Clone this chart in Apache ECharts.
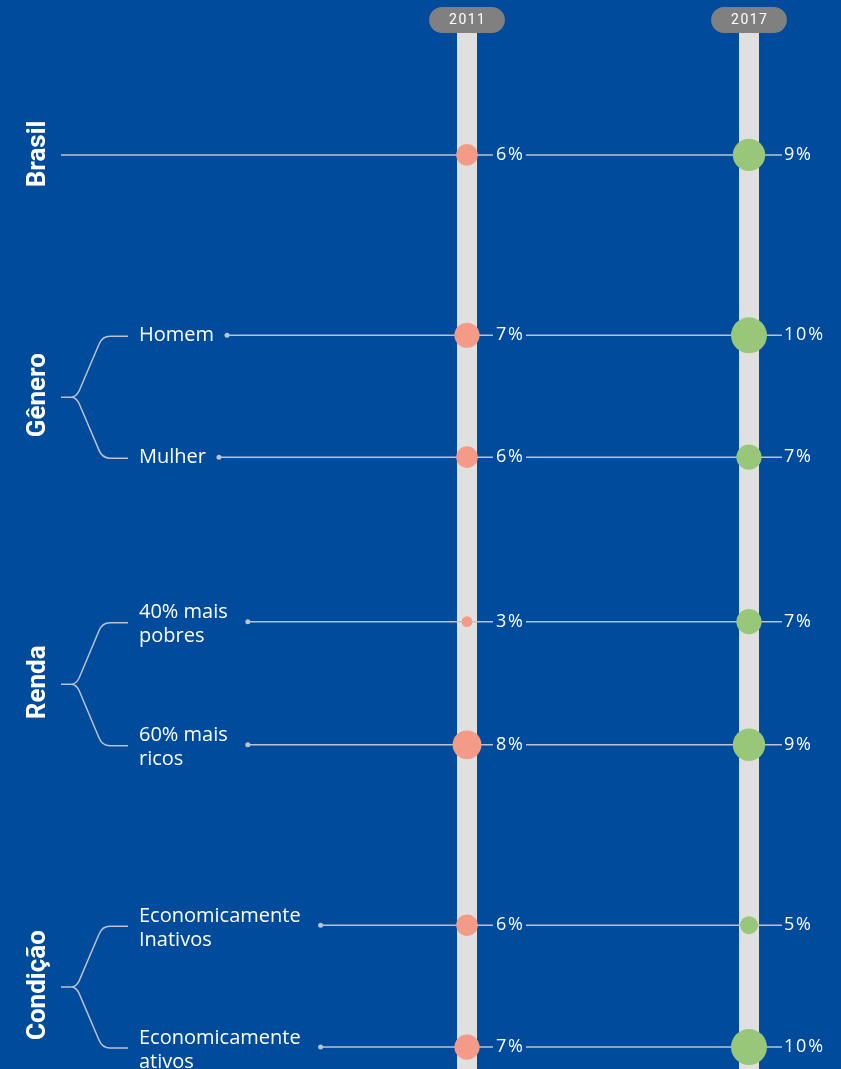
<!DOCTYPE html>
<html>
<head>
<meta charset="utf-8">
<script src="https://cdn.jsdelivr.net/npm/echarts@6/dist/echarts.min.js"></script>
<style>
  html, body { margin: 0; padding: 0; background: #004b9b; }
  #chart { width: 841px; height: 1069px; }
</style>
</head>
<body>
<div id="chart"></div>
<script>
// data
const years = ['2011', '2017'];
const rowLabels = ['', 'Homem', 'Mulher', '40% mais\npobres', '60% mais\nricos', 'Economicamente\nInativos', 'Economicamente\nativos'];
const values2011 = [6, 7, 6, 3, 8, 6, 7];
const values2017 = [9, 10, 7, 7, 9, 5, 10];
const groupNames = ['Brasil', 'Gênero', 'Renda', 'Condição'];
const groupRows = [[0, 0], [1, 2], [3, 4], [5, 6]];

// layout: slot of each row on the vertical axis (1 = gap inside a group)
const rowPos = [0, 1.48, 2.48, 3.83, 4.84, 6.32, 7.32];

const bg = '#004b9b';
const lineColor = '#bcc2cf';
const labelFont = '"Open Sans"';
const labelX = 139;   // left edge of row labels
const bracketX = 61;  // where the brackets / Brasil line start

const measureCtx = document.createElement('canvas').getContext('2d');
measureCtx.font = '20px ' + labelFont;
function textWidth(s) {
  return measureCtx.measureText(s).width;
}
// loose tracking, as in the original artwork
const spaced = s => String(s).split('').join('\u200a');

const sizeOf = v => v * 3.6;

function yearSeries(name, values, color, textGap, bgPad) {
  return {
    name: name,
    type: 'scatter',
    z: 4,
    symbolSize: val => sizeOf(val[2]),
    itemStyle: { color: color, opacity: 1 },
    data: values.map((v, i) => ({
      value: [name, rowPos[i], v],
      label: { distance: textGap - bgPad - sizeOf(v) / 2 }
    })),
    label: {
      show: true,
      position: 'right',
      formatter: p => spaced(p.value[2] + '%'),
      color: '#fff',
      fontSize: 18,
      fontFamily: labelFont,
      backgroundColor: bgPad ? bg : 'transparent',
      padding: [0, bgPad, 0, bgPad]
    }
  };
}

const chart = echarts.init(document.getElementById('chart'));
const option = {
  backgroundColor: bg,
  animation: false,
  grid: { left: 467, right: 92, top: 33, bottom: 0 },
  xAxis: {
    type: 'category',
    data: years,
    boundaryGap: false,
    position: 'top',
    axisLine: { show: false },
    axisTick: { show: false },
    axisLabel: {
      formatter: v => spaced(v),
      color: '#fff',
      fontSize: 14,
      fontFamily: 'Roboto',
      lineHeight: 16,
      backgroundColor: '#808080',
      borderRadius: 13,
      padding: [5, 20, 5, 20],
      margin: 0
    },
    splitLine: { show: true, lineStyle: { color: '#e0e0e0', width: 20 } }
  },
  yAxis: { type: 'value', inverse: true, min: -1, max: 7.5, show: false },
  series: [
    {
      // row lines, dots and row labels
      type: 'custom',
      z: 2,
      clip: false,
      silent: true,
      data: rowPos.map(p => [0, p]),
      renderItem: function (params, api) {
        const i = params.dataIndex;
        const y = api.coord([0, api.value(1)])[1];
        const xEnd = api.coord([1, api.value(1)])[0] + 33;
        const label = rowLabels[i];
        const children = [];
        let xStart = bracketX;
        let multi = false;
        if (label) {
          const lines = label.split('\n');
          multi = lines.length > 1;
          const w = Math.max.apply(null, lines.map(textWidth));
          xStart = labelX + w + (multi ? 20 : 13);
        }
        children.push({
          type: 'line',
          shape: { x1: xStart, y1: y, x2: xEnd, y2: y },
          style: { stroke: lineColor, lineWidth: 1.5 }
        });
        if (label) {
          children.push({
            type: 'circle',
            shape: { cx: xStart, cy: y, r: 2.5 },
            style: { fill: lineColor }
          });
          children.push({
            type: 'text',
            x: labelX,
            y: y + (multi ? 3 : 0),
            style: {
              text: label,
              fill: '#fff',
              fontSize: 20,
              fontFamily: labelFont,
              lineHeight: 24,
              align: 'left',
              verticalAlign: 'middle'
            }
          });
        }
        return { type: 'group', children: children };
      }
    },
    {
      // group names and brackets
      type: 'custom',
      z: 2,
      clip: false,
      silent: true,
      data: groupRows.map(r => [0, rowPos[r[0]], rowPos[r[1]]]),
      renderItem: function (params, api) {
        const y1 = api.coord([0, api.value(1)])[1];
        const y2 = api.coord([0, api.value(2)])[1];
        const ym = (y1 + y2) / 2;
        const children = [{
          type: 'text',
          x: 38,
          y: ym - 1,
          rotation: Math.PI / 2,
          style: {
            text: groupNames[params.dataIndex],
            fill: '#fff',
            fontSize: 26,
            fontWeight: 'bold',
            fontFamily: 'Roboto',
            align: 'center',
            verticalAlign: 'middle'
          }
        }];
        if (y2 > y1) {
          const t = y1 + 1, b = y2 + 1, m = ym + 1;
          const d = 'M' + bracketX + ',' + m + ' L71,' + m +
            ' C75,' + m + ' 77,' + (m - 2) + ' 79,' + (m - 6) +
            ' L99,' + (t + 8) + ' C101,' + (t + 3) + ' 104,' + t + ' 110,' + t +
            ' L128,' + t +
            ' M71,' + m + ' C75,' + m + ' 77,' + (m + 2) + ' 79,' + (m + 6) +
            ' L99,' + (b - 8) + ' C101,' + (b - 3) + ' 104,' + b + ' 110,' + b +
            ' L128,' + b;
          children.push({
            type: 'path',
            shape: { pathData: d },
            style: { stroke: lineColor, lineWidth: 1.5, fill: null }
          });
        }
        return { type: 'group', children: children };
      }
    },
    yearSeries('2011', values2011, '#f39b86', 29, 3),
    yearSeries('2017', values2017, '#99c77a', 35, 0)
  ]
};
chart.setOption(option);
</script>
</body>
</html>
